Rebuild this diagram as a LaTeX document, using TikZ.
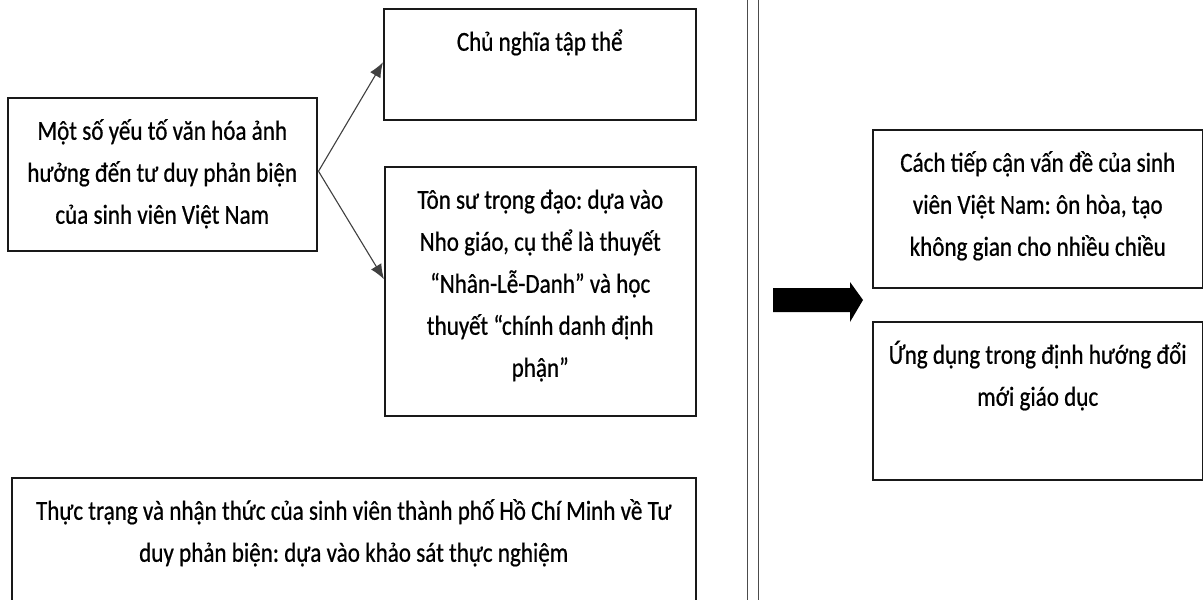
\documentclass[tikz,border=0pt]{standalone}
\usepackage{fontspec}
\setmainfont[FakeStretch=0.84,FakeBold=0.6]{Carlito}
\usetikzlibrary{arrows.meta,calc}
\newcommand\bxt[3]{\parbox[c][#2pt][t]{#1pt}{\centering\frenchspacing\fontsize{27.5}{42}\selectfont\leavevmode\rule{0pt}{42pt}#3\par}}
\tikzset{
  box/.style={draw=black!90, line width=1.5pt, inner sep=0pt, anchor=north west},
  conn/.style={draw=black!75, line width=1.1pt, -{Latex[length=15pt,width=12pt]}},
  divider/.style={draw=black!70, line width=1pt}
}
\begin{document}
\begin{tikzpicture}[x=1pt,y=-1pt]
\useasboundingbox (0,0) rectangle (1203,600);
\clip (0,0) rectangle (1203,600);
\fill[white] (0,0) rectangle (1203,600);

\node[box] (A) at (7,97) {\bxt{309}{153}{Một số yếu tố văn hóa ảnh\\ hưởng đến tư duy phản biện\\ của sinh viên Việt Nam}};
\node[box] (B) at (383,8) {\bxt{312}{111}{Chủ nghĩa tập thể}};
\node[box] (C) at (384,166) {\bxt{311}{249}{Tôn sư trọng đạo: dựa vào\\ Nho giáo, cụ thể là thuyết\\ “Nhân-Lễ-Danh” và học\\ thuyết “chính danh định\\ phận”}};
\node[box] (D) at (11,477) {\bxt{684}{140}{Thực trạng và nhận thức của sinh viên thành phố Hồ Chí Minh về Tư\\ duy phản biện: dựa vào khảo sát thực nghiệm}};
\node[box] (E) at (872,129) {\bxt{330}{158}{Cách tiếp cận vấn đề của sinh\\ viên Việt Nam: ôn hòa, tạo\\ không gian cho nhiều chiều}};
\node[box] (F) at (872,321) {\bxt{330}{158}{Ứng dụng trong định hướng đổi\\ mới giáo dục}};

\coordinate (s) at ($(A.east)+(1,-3)$);
\draw[conn] (s) -- ($(B.west)+(0,-2)$);
\draw[conn] (s) -- ($(C.west)+(0,-12)$);

\draw[divider] (747,0) -- (747,600);
\draw[divider] (758,0) -- (758,600);

\fill[black] (773,288) -- (850,288) -- (850,282) -- (863,300) -- (850,322) -- (850,312) -- (773,312) -- cycle;
\end{tikzpicture}
\end{document}
